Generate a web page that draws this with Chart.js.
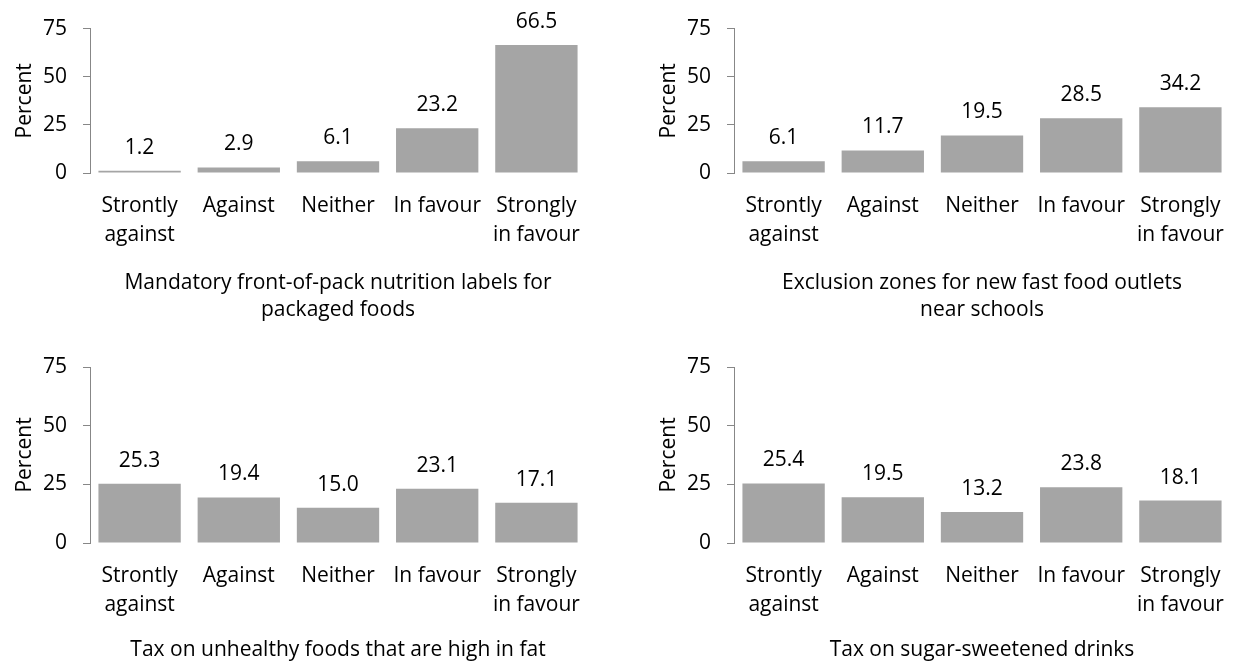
<!DOCTYPE html>
<html>
<head>
<meta charset="utf-8">
<script src="https://cdn.jsdelivr.net/npm/chart.js@4.4.1/dist/chart.umd.min.js"></script>
<style>
  body { margin: 0; background: #fff; }
  #wrap { position: relative; width: 1237px; height: 664px; }
  canvas { position: absolute; }
</style>
</head>
<body>
<div id="wrap">
  <canvas id="c1" width="600" height="325" style="left:0;top:0"></canvas>
  <canvas id="c2" width="593" height="325" style="left:644px;top:0"></canvas>
  <canvas id="c3" width="600" height="339" style="left:0;top:325px"></canvas>
  <canvas id="c4" width="593" height="339" style="left:644px;top:325px"></canvas>
</div>
<script>
// response categories (shared by all four panels)
const categories = [['Strontly', 'against'], 'Against', 'Neither', 'In favour', ['Strongly', 'in favour']];
const yTicks = [0, 25, 50, 75];

// percent of respondents per policy
const frontOfPack = [1.2, 2.9, 6.1, 23.2, 66.5];
const exclusionZones = [6.1, 11.7, 19.5, 28.5, 34.2];
const fatTax = [25.3, 19.4, 15.0, 23.1, 17.1];
const sugarTax = [25.4, 19.5, 13.2, 23.8, 18.1];

const titles = {
  frontOfPack: ['Mandatory front-of-pack nutrition labels for', 'packaged foods'],
  exclusionZones: ['Exclusion zones for new fast food outlets', 'near schools'],
  fatTax: 'Tax on unhealthy foods that are high in fat',
  sugarTax: 'Tax on sugar-sweetened drinks'
};

const FONT = 'Open Sans';
const FSIZE = 21;
const axisGrey = '#878787';

// writes the value above each bar
const valueLabels = {
  id: 'valueLabels',
  afterDatasetsDraw(chart) {
    const ctx = chart.ctx;
    const values = chart.data.datasets[0].data;
    ctx.save();
    ctx.font = FSIZE + 'px ' + FONT;
    ctx.fillStyle = '#000';
    ctx.textAlign = 'center';
    ctx.textBaseline = 'alphabetic';
    chart.getDatasetMeta(0).data.forEach((bar, i) => {
      ctx.fillText(values[i].toFixed(1), bar.x, bar.y - 17);
    });
    ctx.restore();
  }
};

function panel(id, values, title, areaTop, areaBottom, padRight, titlePad) {
  const canvas = document.getElementById(id);
  const H = canvas.height;
  return new Chart(canvas, {
    type: 'bar',
    data: {
      labels: categories,
      datasets: [{
        data: values,
        backgroundColor: '#a5a5a5',
        borderWidth: 0,
        barPercentage: 0.83,
        categoryPercentage: 1
      }]
    },
    options: {
      responsive: false,
      animation: false,
      layout: { padding: { top: areaTop, right: padRight, bottom: 0, left: 0 } },
      plugins: { legend: { display: false }, tooltip: { enabled: false } },
      scales: {
        x: {
          grid: { display: false },
          border: { display: false },
          ticks: {
            color: '#000',
            font: { family: FONT, size: FSIZE, lineHeight: 1.36 },
            padding: 11,
            maxRotation: 0,
            autoSkip: false
          },
          title: {
            display: true,
            text: title,
            color: '#000',
            font: { family: FONT, size: FSIZE, lineHeight: 1.3 },
            padding: { top: 0, bottom: titlePad }
          },
          afterFit(scale) { scale.height = H - areaBottom; }
        },
        y: {
          min: 0,
          max: 75,
          afterBuildTicks(scale) { scale.ticks = yTicks.map(v => ({ value: v })); },
          border: { display: true, color: axisGrey, width: 1 },
          grid: { display: true, drawOnChartArea: false, drawTicks: true, tickLength: 7, tickColor: axisGrey },
          ticks: {
            color: '#000',
            font: { family: FONT, size: FSIZE },
            padding: 16
          },
          title: {
            display: true,
            text: 'Percent',
            color: '#000',
            font: { family: FONT, size: FSIZE, lineHeight: 1.3 },
            padding: { top: 11, bottom: 0 }
          },
          afterFit(scale) { scale.width = 90; }
        }
      }
    },
    plugins: [valueLabels]
  });
}

panel('c1', frontOfPack, titles.frontOfPack, 28, 173, 14, 1);
panel('c2', exclusionZones, titles.exclusionZones, 28, 173, 7, 1);
panel('c3', fatTax, titles.fatTax, 42, 218, 14, 0);
panel('c4', sugarTax, titles.sugarTax, 42, 218, 7, 0);
</script>
</body>
</html>
